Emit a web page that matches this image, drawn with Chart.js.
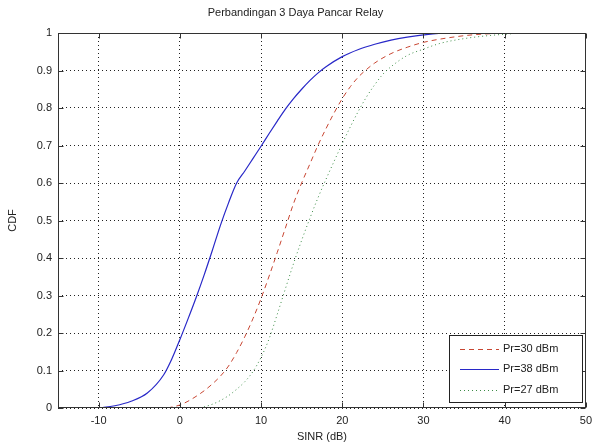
<!DOCTYPE html>
<html>
<head>
<meta charset="utf-8">
<script src="https://cdn.jsdelivr.net/npm/chart.js@4/dist/chart.umd.min.js"></script>
<style>
  html, body { margin: 0; padding: 0; background: #fff; }
  #wrap { width: 598px; height: 448px; }
</style>
</head>
<body>
<div id="wrap"><canvas id="c" width="598" height="448"></canvas></div>
<script>
const titleText = "Perbandingan 3 Daya Pancar Relay";
const xTitle = "SINR (dB)";
const yTitle = "CDF";
const xTicks = [-10, 0, 10, 20, 30, 40, 50];
const yTicks = [0, 0.1, 0.2, 0.3, 0.4, 0.5, 0.6, 0.7, 0.8, 0.9, 1];

const labels = ["Pr=30 dBm", "Pr=38 dBm", "Pr=27 dBm"];

const x30 = [-1.5, 0, 1, 2, 3, 4, 5, 6, 7, 8, 9, 10, 11, 12, 13, 14, 15, 16, 17, 18, 19, 20, 21, 22, 23, 24, 26, 28, 30, 33, 36, 40];
const y30 = [0, 0.008, 0.018, 0.031, 0.046, 0.064, 0.085, 0.112, 0.148, 0.19, 0.238, 0.292, 0.352, 0.415, 0.48, 0.545, 0.6, 0.65, 0.7, 0.745, 0.787, 0.825, 0.857, 0.883, 0.903, 0.92, 0.945, 0.962, 0.975, 0.987, 0.995, 1];

const x38 = [-10, -8, -6, -4, -2, -1, 0, 1, 2, 3, 4, 5, 6, 7, 8, 9, 10, 11, 12, 13, 14, 15, 16, 17, 18, 20, 22, 24, 26, 28, 30, 33, 40];
const y38 = [0, 0.006, 0.018, 0.04, 0.088, 0.13, 0.182, 0.237, 0.294, 0.355, 0.42, 0.487, 0.547, 0.6, 0.632, 0.665, 0.698, 0.732, 0.765, 0.797, 0.825, 0.85, 0.873, 0.893, 0.91, 0.937, 0.956, 0.97, 0.981, 0.989, 0.995, 1, 1];

const x27 = [2.5, 4, 5, 6, 7, 8, 9, 10, 11, 12, 13, 14, 15, 16, 17, 18, 19, 20, 21, 22, 23, 24, 25, 26, 28, 30, 32, 35, 38, 42];
const y27 = [0, 0.01, 0.02, 0.033, 0.05, 0.07, 0.097, 0.135, 0.185, 0.25, 0.318, 0.385, 0.447, 0.505, 0.56, 0.61, 0.658, 0.705, 0.75, 0.792, 0.83, 0.862, 0.89, 0.91, 0.94, 0.957, 0.972, 0.985, 0.993, 1];

const pts = (xs, ys) => xs.map((v, i) => ({ x: v, y: ys[i] }));

const FONT = "'Liberation Sans', Arial, sans-serif";

const boxPlugin = {
  id: 'boxPlugin',
  afterDatasetsDraw(chart) {
    const { ctx, chartArea: a, scales: { x, y } } = chart;
    ctx.save();
    ctx.strokeStyle = '#333';
    ctx.lineWidth = 1;
    ctx.setLineDash([]);
    const L = Math.round(a.left) + 0.5, R = Math.round(a.right) - 0.5;
    const T = Math.round(a.top) + 0.5, B = Math.round(a.bottom) - 0.5;
    ctx.strokeRect(L, T, R - L, B - T);
    ctx.beginPath();
    xTicks.forEach(v => {
      const p = Math.round(x.getPixelForValue(v)) + 0.5;
      ctx.moveTo(p, B); ctx.lineTo(p, B - 5);
      ctx.moveTo(p, T); ctx.lineTo(p, T + 5);
    });
    yTicks.forEach(v => {
      const p = Math.round(y.getPixelForValue(v)) + 0.5;
      ctx.moveTo(L, p); ctx.lineTo(L + 5, p);
      ctx.moveTo(R, p); ctx.lineTo(R - 5, p);
    });
    ctx.stroke();

    // legend
    const lx = 449.5, ly = 335.5, lw = 133, lh = 67;
    ctx.fillStyle = '#fff';
    ctx.fillRect(lx, ly, lw, lh);
    ctx.strokeStyle = '#222';
    ctx.strokeRect(lx, ly, lw, lh);
    ctx.font = '11px ' + FONT;
    ctx.textBaseline = 'middle';
    ctx.textAlign = 'left';
    chart.data.datasets.forEach((ds, i) => {
      const yy = ly + 13 + i * 20.5;
      ctx.strokeStyle = ds.borderColor;
      ctx.lineWidth = ds.borderWidth;
      ctx.setLineDash(ds.borderDash || []);
      ctx.beginPath();
      ctx.moveTo(460, Math.round(yy) + 0.5);
      ctx.lineTo(499, Math.round(yy) + 0.5);
      ctx.stroke();
      ctx.setLineDash([]);
      ctx.fillStyle = '#222';
      ctx.fillText(ds.label, 503, yy);
    });
    ctx.restore();
  }
};

new Chart(document.getElementById('c'), {
  type: 'line',
  data: {
    datasets: [
      { label: labels[0], data: pts(x30, y30), borderColor: 'rgb(200,70,50)', borderDash: [5, 4], borderWidth: 1, pointRadius: 0, cubicInterpolationMode: 'monotone', fill: false },
      { label: labels[1], data: pts(x38, y38), borderColor: 'rgb(40,40,200)', borderWidth: 1.2, pointRadius: 0, cubicInterpolationMode: 'monotone', fill: false },
      { label: labels[2], data: pts(x27, y27), borderColor: 'rgb(60,140,70)', borderDash: [1, 3], borderWidth: 1, pointRadius: 0, cubicInterpolationMode: 'monotone', fill: false }
    ]
  },
  options: {
    responsive: false,
    animation: false,
    events: [],
    layout: { padding: { left: 0, right: 7, top: 0, bottom: 0 } },
    plugins: {
      legend: { display: false },
      tooltip: { enabled: false },
      title: {
        display: true,
        text: titleText,
        color: '#222',
        font: { family: FONT, size: 11, weight: 'normal', lineHeight: 1 },
        padding: { top: 7, bottom: 15 }
      }
    },
    scales: {
      x: {
        type: 'linear',
        min: -15, max: 50,
        afterFit(s) { s.height = 40; },
        afterBuildTicks(s) { s.ticks = xTicks.map(v => ({ value: v })); },
        grid: { color: '#222', lineWidth: 1, drawTicks: false },
        border: { display: false, dash: [1, 3] },
        ticks: { color: '#222', padding: 6, font: { family: FONT, size: 11 }, maxRotation: 0, autoSkip: false },
        title: { display: true, text: xTitle, color: '#222', font: { family: FONT, size: 11 }, padding: { top: 0, bottom: 4 } }
      },
      y: {
        type: 'linear',
        min: 0, max: 1,
        afterFit(s) { s.width = 58; },
        afterBuildTicks(s) { s.ticks = yTicks.map(v => ({ value: v })); },
        grid: { color: '#222', lineWidth: 1, drawTicks: false },
        border: { display: false, dash: [1, 3] },
        ticks: { color: '#222', padding: 6, font: { family: FONT, size: 11 }, autoSkip: false,
                 callback: v => String(Math.round(v * 10) / 10) },
        title: { display: true, text: yTitle, color: '#222', font: { family: FONT, size: 11 }, padding: { top: 6, bottom: 0 } }
      }
    }
  },
  plugins: [boxPlugin]
});
</script>
</body>
</html>
